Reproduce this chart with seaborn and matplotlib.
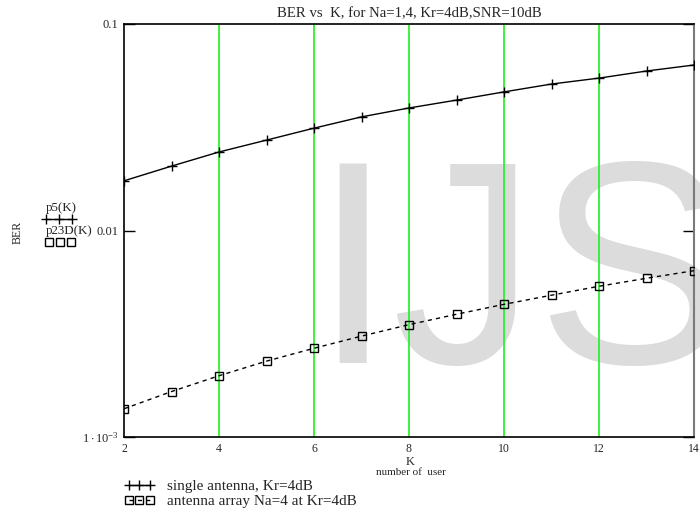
import numpy as np
import pandas as pd
import matplotlib
matplotlib.use("Agg")
import matplotlib.pyplot as plt
from matplotlib.lines import Line2D
import seaborn as sns

# Number of users
K = [2, 3, 4, 5, 6, 7, 8, 9, 10, 11, 12, 13, 14]
# BER, single antenna (Kr = 4 dB)
ber_single = [0.0174, 0.0205, 0.0240, 0.0274, 0.0313, 0.0355, 0.0392,
              0.0428, 0.0469, 0.0512, 0.0547, 0.0592, 0.0633]
# BER, antenna array Na = 4 (Kr = 4 dB)
ber_array = [0.00137, 0.00166, 0.00198, 0.00233, 0.00269, 0.00308, 0.00350,
             0.00393, 0.00439, 0.00486, 0.00537, 0.00587, 0.00639]

grid_k = [4, 6, 8, 10, 12]
y_ticks = [0.001, 0.01, 0.1]
y_ticklabels = [r"$1\cdot10^{-3}$", "0.01", "0.1"]
x_ticks = [2, 4, 6, 8, 10, 12, 14]

title = "BER vs  K, for Na=1,4, Kr=4dB,SNR=10dB"
label_single = "single antenna, Kr=4dB"
label_array = "antenna array Na=4 at Kr=4dB"

df = pd.DataFrame({"K": K, "single": ber_single, "array": ber_array})

sns.set_theme(style="white")
plt.rcParams["font.family"] = ["Liberation Serif", "DejaVu Serif"]
plt.rcParams["mathtext.fontset"] = "custom"
plt.rcParams["mathtext.rm"] = "Liberation Serif"
plt.rcParams["mathtext.it"] = "Liberation Serif:italic"

fig = plt.figure(figsize=(7.0, 5.12), dpi=100, facecolor="white")
ax = fig.add_axes([124 / 700, 1 - 437 / 512, 570 / 700, 413 / 512])
ax.set_facecolor("none")

# watermark behind the plot
fig.text(312 / 700, 1 - 363 / 512, "IJS", fontsize=208, family="Liberation Sans",
         color="#dcdcdc", ha="left", va="baseline", zorder=-5)

for k in grid_k:
    ax.axvline(k, color="#2ef02e", lw=1.3, zorder=1)

sns.lineplot(data=df, x="K", y="single", ax=ax, color="black", lw=1.0,
             marker="+", markersize=7, markeredgewidth=1.0,
             markeredgecolor="black", label=label_single, zorder=3)
sns.lineplot(data=df, x="K", y="array", ax=ax, color="black", lw=1.0,
             linestyle=(0, (3, 3)), marker="s", markersize=5.5,
             markerfacecolor="none", markeredgecolor="black",
             markeredgewidth=1.0, label=label_array, zorder=3)

ax.set_yscale("log")
ax.set_xlim(2, 14)
ax.set_ylim(1e-3, 0.1)
ax.set_yticks(y_ticks)
ax.set_yticklabels(y_ticklabels)
ax.yaxis.set_minor_locator(matplotlib.ticker.NullLocator())
ax.set_xticks(x_ticks)
ax.set_xticklabels([str(v) for v in x_ticks])
ax.tick_params(axis="y", which="major", direction="in", length=8, width=1,
               color="black", labelsize=9, pad=4, right=True, left=True)
ax.tick_params(axis="x", length=0, labelsize=8.5, pad=4)
ax.set_xlabel("")
ax.set_ylabel("")

for side in ["left", "bottom", "top"]:
    ax.spines[side].set_color("black")
    ax.spines[side].set_linewidth(1.2)
ax.spines["right"].set_color("#7a7a7a")
ax.spines["right"].set_linewidth(1.5)

ax.set_title(title, fontsize=10.6, pad=5)

# axis captions
fig.text(410 / 700, 1 - 462 / 512, "K", fontsize=9, ha="center", va="center")
fig.text(411 / 700, 1 - 472.5 / 512, "number of  user", fontsize=8, ha="center",
         va="center")
fig.text(18 / 700, 1 - 232 / 512, "BER", fontsize=8.5, rotation=90,
         ha="center", va="center")

# trace names beside the y axis
fig.text(46 / 700, 1 - 208 / 512, "p5(K)", fontsize=9.3, ha="left", va="center")
fig.text(46 / 700, 1 - 231 / 512, "p23D(K)", fontsize=9.3, ha="left", va="center")
fig.add_artist(Line2D(np.array([46, 59, 72]) / 700, [1 - 219 / 512] * 3,
                      transform=fig.transFigure, color="black", lw=1,
                      marker="+", markersize=7))
fig.add_artist(Line2D(np.array([49, 60, 71]) / 700, [1 - 241.5 / 512] * 3,
                      transform=fig.transFigure, color="black", lw=1,
                      linestyle="none", marker="s", markersize=5.5,
                      markerfacecolor="none"))

# legend rows below the axes, one row each
handles, labels = ax.get_legend_handles_labels()
ax.get_legend().remove()
row_y = [486.5, 501]
for h, lab, yy in zip(handles, labels, row_y):
    fig.legend([h], [lab], loc="center left",
               bbox_to_anchor=(124 / 700, 1 - yy / 512), frameon=False,
               fontsize=11, numpoints=3, handlelength=2.0, handletextpad=0.8,
               borderpad=0, borderaxespad=0)

fig.savefig("out.png", dpi=100, facecolor="white")
